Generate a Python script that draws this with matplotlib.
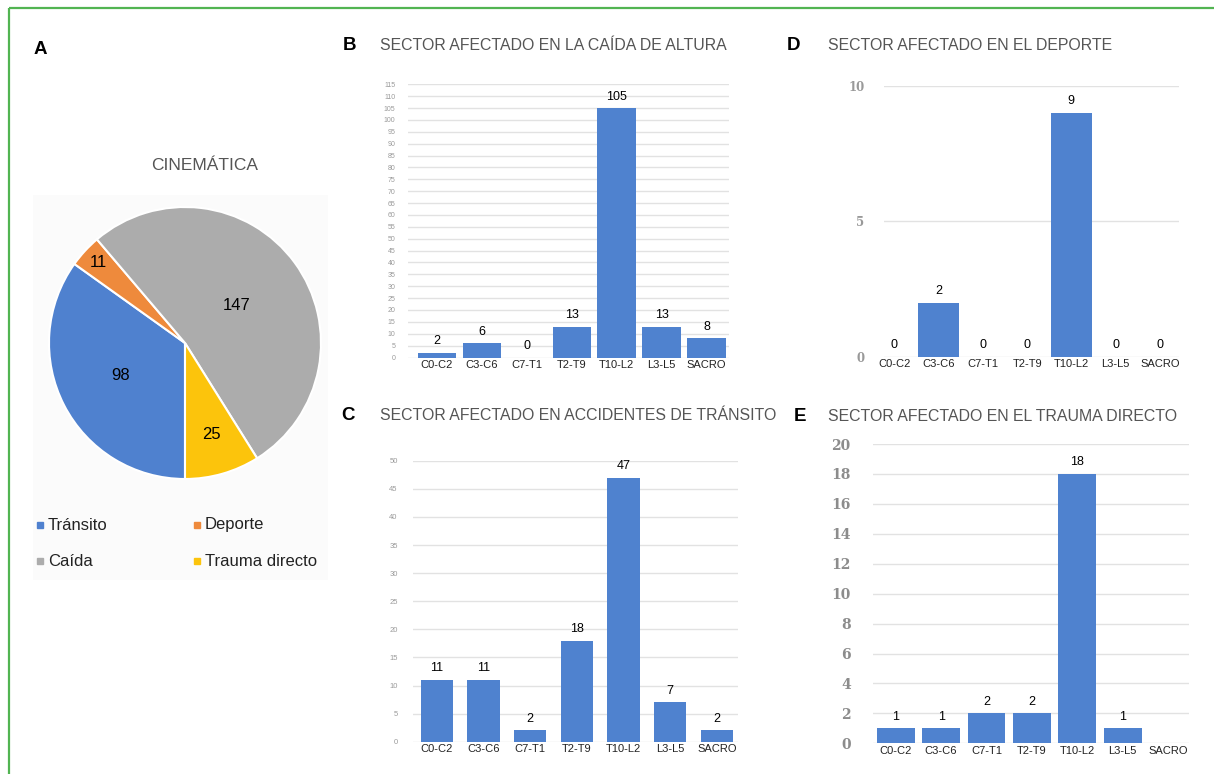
import matplotlib
matplotlib.use("Agg")
import matplotlib.pyplot as plt
from matplotlib.patches import Rectangle
import numpy as np

# ---------------- data ----------------
categories = ['C0-C2', 'C3-C6', 'C7-T1', 'T2-T9', 'T10-L2', 'L3-L5', 'SACRO']
caida_altura = [2, 6, 0, 13, 105, 13, 8]
accidentes_transito = [11, 11, 2, 18, 47, 7, 2]
deporte = [0, 2, 0, 0, 9, 0, 0]
trauma_directo = [1, 1, 2, 2, 18, 1, 0]
trauma_labels_shown = [True, True, True, True, True, True, False]

pie_labels = ['Tránsito', 'Deporte', 'Caída', 'Trauma directo']
pie_values = [98, 11, 147, 25]
pie_colors = ['#4f81cf', '#ee8a3c', '#acacac', '#fcc40c']

BAR = '#4f82cf'
W, H = 1214, 774
plt.rcParams['font.family'] = ['Liberation Sans', 'DejaVu Sans']

fig = plt.figure(figsize=(W / 100, H / 100), dpi=100)
fig.patch.set_facecolor('white')


def px_axes(l, t, r, b, **kw):
    return fig.add_axes([l / W, 1 - b / H, (r - l) / W, (b - t) / H], **kw)


# overlay for decorations
ov = px_axes(0, 0, W, H, zorder=-5)
ov.set_xlim(0, W)
ov.set_ylim(H, 0)
ov.axis('off')
ov.add_patch(Rectangle((33, 195), 295, 385, facecolor='#fbfbfb', edgecolor='none'))
ov.plot([8.5, 8.5], [7.5, H + 5], color='#52b452', lw=1.6, solid_capstyle='butt')
ov.plot([8.5, W + 5], [7.5, 7.5], color='#52b452', lw=1.6, solid_capstyle='butt')

# ---------------- panel A: pie ----------------
fig.text(40 / W, 1 - 50 / H, 'A', fontsize=13.5, fontweight='bold', ha='center', va='center')
fig.text(205 / W, 1 - 165 / H, 'CINEMÁTICA', fontsize=12.5, color='#555555', ha='center', va='center')

axp = px_axes(49, 207, 321, 479)
wedges, texts, autotexts = axp.pie(
    pie_values, colors=pie_colors, startangle=270, counterclock=False,
    radius=1, autopct=lambda p: '', wedgeprops=dict(edgecolor='white', linewidth=1.5))
label_r = [0.53, 0.87, 0.47, 0.70]
for w, v, r in zip(wedges, pie_values, label_r):
    ang = np.deg2rad((w.theta1 + w.theta2) / 2)
    axp.text(r * np.cos(ang), r * np.sin(ang), str(v), ha='center', va='center',
             fontsize=12, color='black')
axp.set_xlim(-1.0, 1.0)
axp.set_ylim(-1.0, 1.0)
axp.set_aspect('auto')

# legend drawn in overlay
leg_pos = [(40, 525), (197, 525), (40, 561), (197, 561)]
for (x, y), lab, col in zip(leg_pos, pie_labels, pie_colors):
    ov.plot([x], [y], marker='s', markersize=4.5, color=col, linestyle='none')
    ov.text(x + 8, y, lab, fontsize=12, color='#222222', ha='left', va='center')


# ---------------- bar panels ----------------
def bar_panel(box, xlim, ylim, yticks, values, width, tickfont, show=None):
    ax = px_axes(*box)
    x = np.arange(len(categories))
    ax.bar(x, values, width=width, color=BAR, zorder=3)
    if show is None:
        show = [True] * len(values)
    for xi, v, s in zip(x, values, show):
        if s:
            ax.annotate(str(v), (xi, v), xytext=(0, 4), textcoords='offset points',
                        ha='center', va='bottom', fontsize=9, color='black')
    ax.set_xlim(*xlim)
    ax.set_ylim(*ylim)
    ax.set_yticks(yticks)
    ax.set_xticks(x)
    ax.set_xticklabels(categories, fontsize=8, color='#222222',
                       family=['Liberation Sans Narrow', 'Liberation Sans'])
    ax.tick_params(axis='x', length=0, pad=2)
    ax.tick_params(axis='y', length=0, **tickfont.pop('tp', {}))
    for lab in ax.get_yticklabels():
        lab.set(**tickfont)
    ax.grid(axis='y', color='#e2e2e2', lw=1.0, zorder=0)
    for s in ax.spines.values():
        s.set_visible(False)
    ax.set_facecolor('none')
    return ax


# B
bar_panel((408, 84.3, 729, 357.5), (-0.64, 6.5), (0, 115), np.arange(0, 116, 5),
          caida_altura, 0.85, dict(fontsize=5, color='#9a9a9a', tp=dict(pad=9)))
# C
bar_panel((413, 460.7, 738, 741.7), (-0.51, 6.45), (0, 50), np.arange(0, 51, 5),
          accidentes_transito, 0.69, dict(fontsize=5.5, color='#9a9a9a', tp=dict(pad=11)))
# D
bar_panel((884, 85.7, 1179, 356.7), (-0.23, 6.43), (0, 10), [0, 5, 10],
          deporte, 0.94, dict(fontsize=8.5, color='#999999', fontweight='bold',
                              family='DejaVu Serif', tp=dict(pad=14)))
# E
bar_panel((873, 444, 1189, 743.3), (-0.5, 6.46), (0, 20), np.arange(0, 21, 2),
          trauma_directo, 0.83, dict(fontsize=10, color='#8c8c8c', fontweight='bold',
                                     family='DejaVu Serif', tp=dict(pad=16)),
          show=trauma_labels_shown)

# titles
titles = [
    ('B', 350, 45, 380, 'SECTOR AFECTADO EN LA CAÍDA DE ALTURA'),
    ('C', 348, 415, 380, 'SECTOR AFECTADO EN ACCIDENTES DE TRÁNSITO'),
    ('D', 793, 45, 828, 'SECTOR AFECTADO EN EL DEPORTE'),
    ('E', 800, 417, 828, 'SECTOR AFECTADO EN EL TRAUMA DIRECTO'),
]
for letter, lx, y, tx, txt in titles:
    fig.text(lx / W, 1 - y / H, letter, fontsize=13.5, fontweight='bold', ha='center', va='center')
    fig.text(tx / W, 1 - y / H, txt, fontsize=11.4, color='#555555', ha='left', va='center')

fig.savefig('out.png', dpi=100)
